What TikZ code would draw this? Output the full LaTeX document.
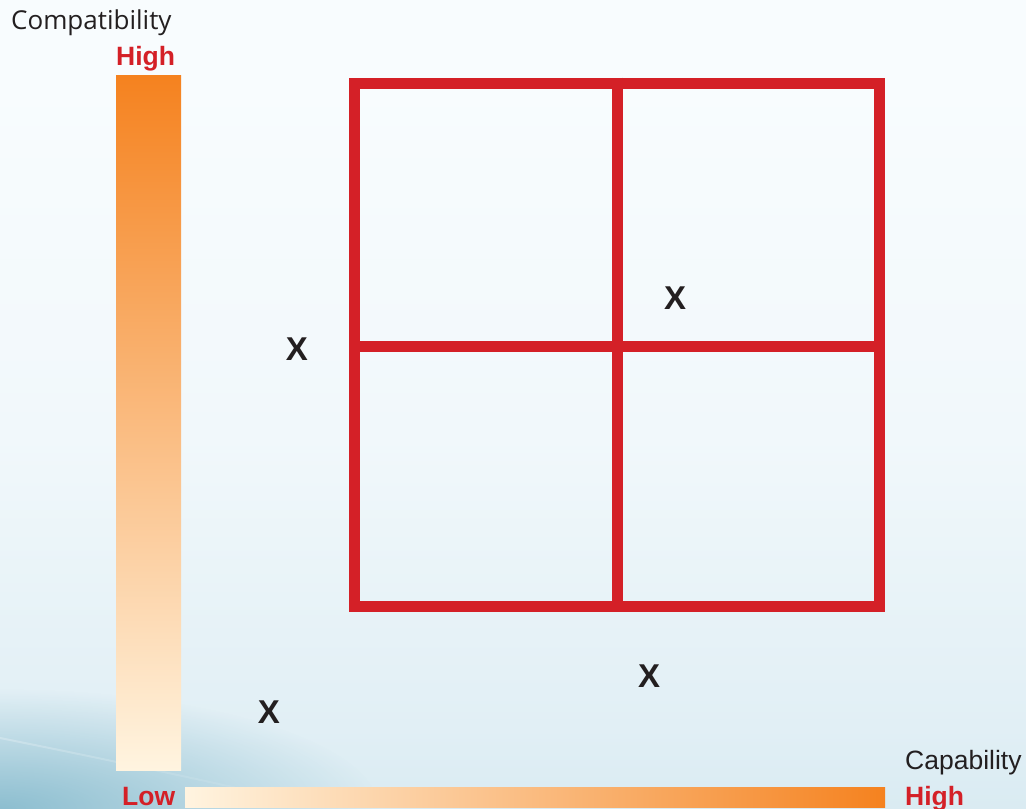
\documentclass[tikz,border=0pt]{standalone}
\usepackage{fontspec}
\usetikzlibrary{fadings}
\setmainfont{Liberation Sans}
\newfontfamily\labfont{Open Sans}
\definecolor{gridred}{HTML}{D42027}
\definecolor{barorange}{HTML}{F5821F}
\definecolor{barcream}{HTML}{FFF4E0}
\definecolor{bgtop}{HTML}{F8FCFE}
\definecolor{bgup}{HTML}{F1F8FB}
\definecolor{bgmid}{HTML}{E1EFF5}
\definecolor{bglow}{HTML}{C6E1EA}
\definecolor{bgbot}{HTML}{AFD4E1}
\definecolor{bgdark}{HTML}{84B9CC}
\definecolor{marktext}{HTML}{231F20}
\pgfdeclareverticalshading{bgshade}{100bp}{color(0bp)=(bgbot); color(12bp)=(bglow); color(30bp)=(bgmid); color(48bp)=(bgup); color(70bp)=(bgtop); color(100bp)=(bgtop)}
\tikzfading[name=softspot, inner color=transparent!0, outer color=transparent!100]
\begin{document}
\begin{tikzpicture}[x=1pt,y=-1pt,
  gridline/.style={draw=gridred,line width=11pt,line join=miter,line cap=rect},
  axislabel/.style={inner sep=0pt,anchor=base west,font=\labfont\fontsize{26}{28}\selectfont,text=marktext},
  levellabel/.style={inner sep=0pt,anchor=base west,font=\bfseries\fontsize{26.5}{30}\selectfont,text=gridred},
  xmark/.style={inner sep=0pt,font=\bfseries\fontsize{33}{36}\selectfont,text=marktext}]
\useasboundingbox (0,0) rectangle (1026,809);
\shade[shading=bgshade] (0,0) rectangle (1026,809);
\fill[bgdark,path fading=softspot,opacity=0.9] (0,809) ellipse [x radius=380pt,y radius=120pt];
\draw[white,opacity=0.25,line width=2pt,path fading=east] (0,738) .. controls (120,762) and (230,786) .. (330,809);
% bars
\shade[top color=barorange,bottom color=barcream] (116,75) rectangle (181,770);
\shade[left color=barcream,right color=barorange] (185,787) rectangle (885,807);
% grid
\draw[gridline] (354.5,83) rectangle (879.5,606);
\draw[gridline,line cap=butt] (617,77.5) -- (617,611.5);
\draw[gridline,line cap=butt] (349,346) -- (885,346);
% labels
\node[axislabel] (compat) at (11,29) {Compatibility};
\node[levellabel] (vhigh) at (116,65) {High};
\node[levellabel] (vlow) at (122,805) {Low};
\node[axislabel,font=\fontsize{26.5}{28}\selectfont] (capab) at (905,769) {Capability};
\node[levellabel] (hhigh) at (905,805) {High};
% marks
\node[xmark] (x1) at (297,349) {X};
\node[xmark] (x2) at (675,298) {X};
\node[xmark] (x3) at (649,676) {X};
\node[xmark] (x4) at (269,712) {X};
\end{tikzpicture}
\end{document}
